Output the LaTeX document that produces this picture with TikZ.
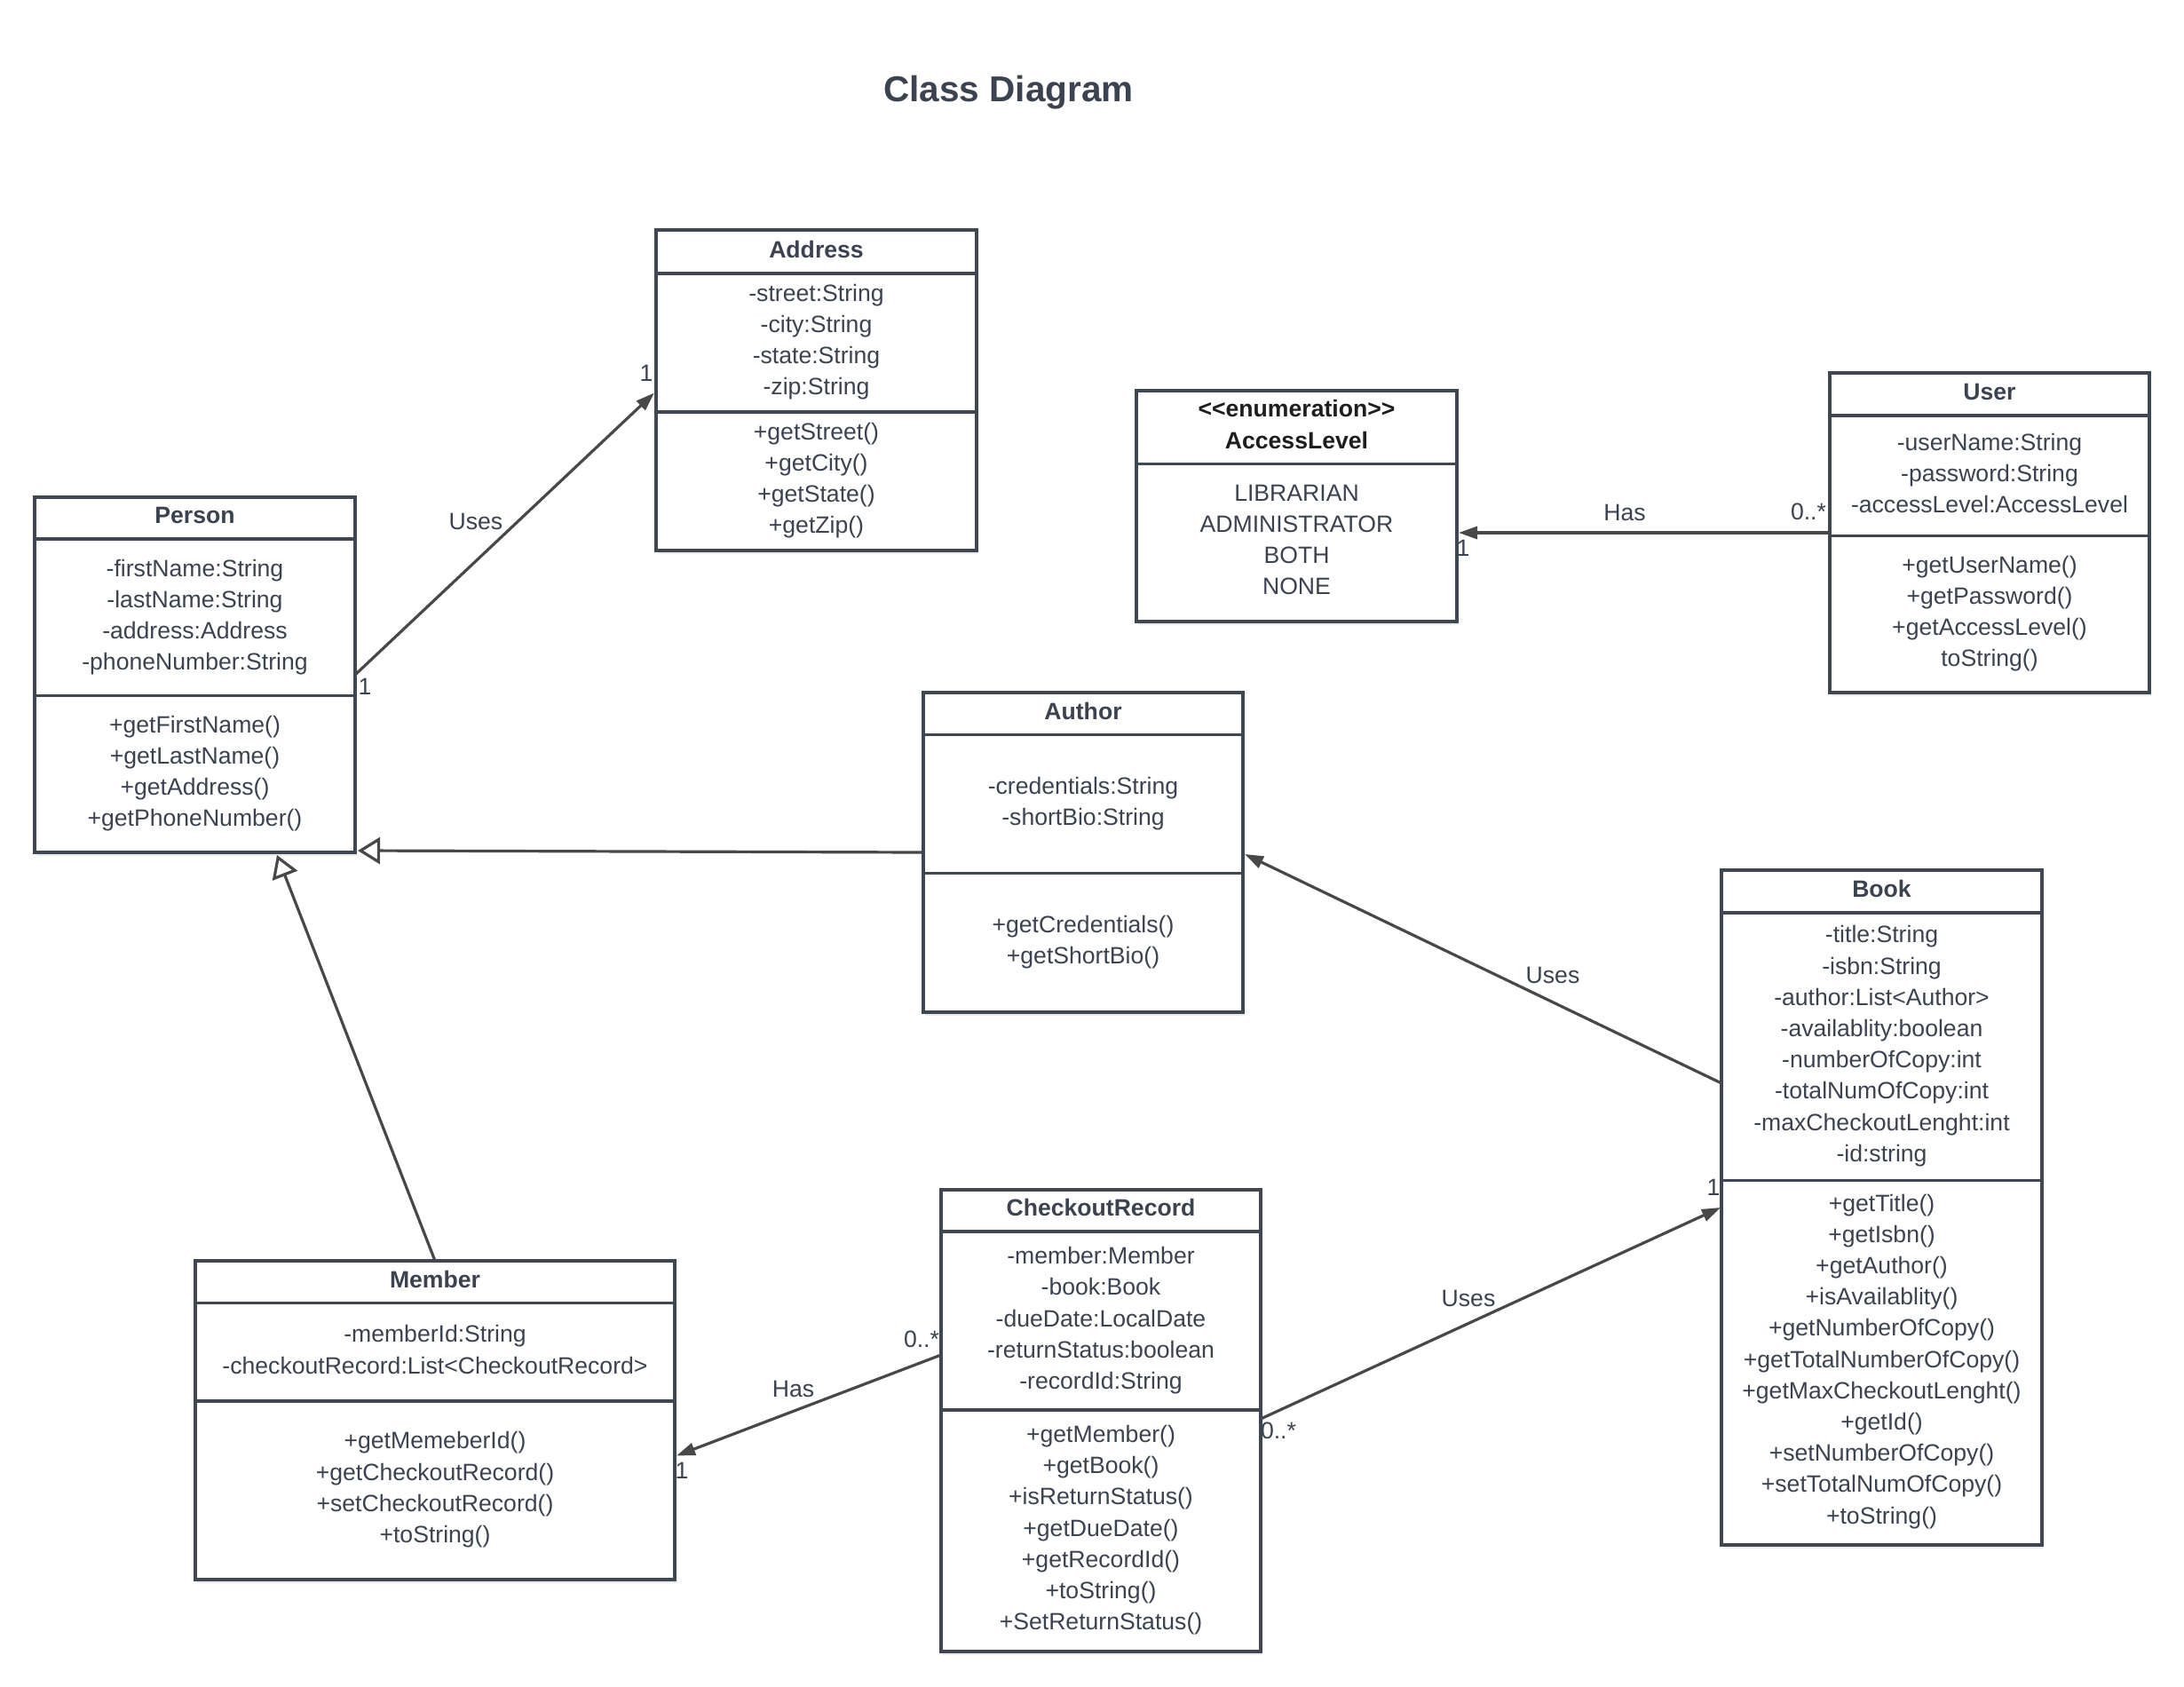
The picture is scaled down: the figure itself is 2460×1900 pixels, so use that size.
\documentclass[tikz,border=0pt]{standalone}
\usepackage{fontspec}
\setmainfont{Liberation Sans}
\usetikzlibrary{arrows.meta,shadows}
\definecolor{boxc}{HTML}{3F4752}
\definecolor{txtc}{HTML}{3B4350}
\definecolor{linec}{HTML}{484848}
\definecolor{hdrk}{HTML}{1E1E1E}
\newcommand{\Lx}[1]{\strut#1}
\begin{document}
\begin{tikzpicture}[x=1pt,y=-1pt,
  umlbox/.style={draw=boxc, line width=3.2pt, fill=white, inner sep=0pt, outer sep=0pt, anchor=north west,
    drop shadow={shadow xshift=2pt, shadow yshift=-4pt, opacity=0.08, fill=black}},
  divline/.style={draw=boxc, line width=3.2pt},
  txt/.style={text=txtc, font=\fontsize{26.6}{35.2}\selectfont, align=center, inner sep=0pt},
  hdr/.style={txt, font=\bfseries\fontsize{26.6}{35.2}\selectfont},
  conn/.style={draw=linec, line width=3.2pt},
  fillarrow/.style={-{Triangle[length=21pt,width=14pt]}},
  genarrow/.style={-{Triangle[open,length=25pt,width=30pt]}},
  lbl/.style={text=txtc, font=\fontsize{26.6}{32}\selectfont, inner sep=0pt}
]
\fill[white] (0,0) rectangle (2460,1900);
\useasboundingbox (0,0) rectangle (2460,1900);

% title
\node[text=txtc, font=\bfseries\fontsize{40.5}{48}\selectfont, anchor=base, inner sep=0pt] (title) at (1136,115) {Class Diagram};

% ---------- boxes ----------
\node[umlbox, minimum width=361pt, minimum height=361pt] (address) at (739,259) {};
\node[umlbox, minimum width=361pt, minimum height=400pt] (person) at (39,560) {};
\node[umlbox, minimum width=361pt, minimum height=260pt] (access) at (1280,440) {};
\node[umlbox, minimum width=360pt, minimum height=360pt] (user) at (2061,420) {};
\node[umlbox, minimum width=360pt, minimum height=360pt] (author) at (1040,780) {};
\node[umlbox, minimum width=361pt, minimum height=760pt] (book) at (1939,980) {};
\node[umlbox, minimum width=360pt, minimum height=520pt] (cr) at (1060,1340) {};
\node[umlbox, minimum width=540pt, minimum height=359pt] (member) at (220,1420) {};

% ---------- dividers ----------
\foreach \b/\d in {address/49, address/205, person/47, person/223.6, access/82.5,
  user/48, user/183.5, author/47.5, author/203.5, book/48, book/349.5,
  cr/47, cr/248, member/47.5, member/158}{
  \draw[divline] ([yshift=-\d pt]\b.north west) -- ([yshift=-\d pt]\b.north east);
}

% ---------- texts ----------
\node[hdr] (address-h) at (919.5,281) {Address};
\node[txt] (address-a) at (919.5,385) {\Lx{-street:String}\\\Lx{-city:String}\\\Lx{-state:String}\\\Lx{-zip:String}};
\node[txt] (address-m) at (919.5,541) {\Lx{+getStreet()}\\\Lx{+getCity()}\\\Lx{+getState()}\\\Lx{+getZip()}};

\node[hdr] (person-h) at (219.5,580.7) {Person};
\node[txt] (person-a) at (219.5,695) {\Lx{-firstName:String}\\\Lx{-lastName:String}\\\Lx{-address:Address}\\\Lx{-phoneNumber:String}};
\node[txt] (person-m) at (219.5,871) {\Lx{+getFirstName()}\\\Lx{+getLastName()}\\\Lx{+getAddress()}\\\Lx{+getPhoneNumber()}};

\node[hdr, text=hdrk] (access-h) at (1460.5,480.5) {\Lx{<\kern0pt<enumeration>\kern0pt>}\\\Lx{AccessLevel}};
\node[txt] (access-a) at (1460.5,610) {\Lx{LIBRARIAN}\\\Lx{ADMINISTRATOR}\\\Lx{BOTH}\\\Lx{NONE}};

\node[hdr] (user-h) at (2241,441.5) {User};
\node[txt] (user-a) at (2241,535.3) {\Lx{-userName:String}\\\Lx{-password:String}\\\Lx{-accessLevel:AccessLevel}};
\node[txt] (user-m) at (2241,691) {\Lx{+getUserName()}\\\Lx{+getPassword()}\\\Lx{+getAccessLevel()}\\\Lx{toString()}};

\node[hdr] (author-h) at (1220,800.7) {Author};
\node[txt] (author-a) at (1220,905.3) {\Lx{-credentials:String}\\\Lx{-shortBio:String}};
\node[txt] (author-m) at (1220,1061) {\Lx{+getCredentials()}\\\Lx{+getShortBio()}};

\node[hdr] (book-h) at (2119.5,1001) {Book};
\node[txt] (book-a) at (2119.5,1178) {\Lx{-title:String}\\\Lx{-isbn:String}\\\Lx{-author:List<Author>}\\\Lx{-availablity:boolean}\\\Lx{-numberOfCopy:int}\\\Lx{-totalNumOfCopy:int}\\\Lx{-maxCheckoutLenght:int}\\\Lx{-id:string}};
\node[txt] (book-m) at (2119.5,1533) {\Lx{+getTitle()}\\\Lx{+getIsbn()}\\\Lx{+getAuthor()}\\\Lx{+isAvailablity()}\\\Lx{+getNumberOfCopy()}\\\Lx{+getTotalNumberOfCopy()}\\\Lx{+getMaxCheckoutLenght()}\\\Lx{+getId()}\\\Lx{+setNumberOfCopy()}\\\Lx{+setTotalNumOfCopy()}\\\Lx{+toString()}};

\node[hdr] (cr-h) at (1240,1360) {CheckoutRecord};
\node[txt] (cr-a) at (1240,1487) {\Lx{-member:Member}\\\Lx{-book:Book}\\\Lx{-dueDate:LocalDate}\\\Lx{-returnStatus:boolean}\\\Lx{-recordId:String}};
\node[txt] (cr-m) at (1240,1723) {\Lx{+getMember()}\\\Lx{+getBook()}\\\Lx{+isReturnStatus()}\\\Lx{+getDueDate()}\\\Lx{+getRecordId()}\\\Lx{+toString()}\\\Lx{+SetReturnStatus()}};

\node[hdr] (member-h) at (490,1441) {Member};
\node[txt] (member-a) at (490,1522.5) {\Lx{-memberId:String}\\\Lx{-checkoutRecord:List<CheckoutRecord>}};
\node[txt] (member-m) at (490,1677.6) {\Lx{+getMemeberId()}\\\Lx{+getCheckoutRecord()}\\\Lx{+setCheckoutRecord()}\\\Lx{+toString()}};

% ---------- connectors ----------
\draw[conn, fillarrow] (person.east) -- ([xshift=-2pt,yshift=-3pt]address.west);
\draw[conn, fillarrow] (user.west) -- ([xshift=2pt,yshift=-30pt]access.east);
\draw[conn, genarrow] (author.west) -- ([xshift=3pt,yshift=2pt]person.south east);
\draw[conn, genarrow] (member.north) -- ([xshift=92.5pt,yshift=-3pt]person.south);
\draw[conn, fillarrow] ([yshift=140pt]book.west) -- ([xshift=2pt,yshift=-2pt]author.east);
\draw[conn, fillarrow] ([yshift=2pt]cr.east) -- ([xshift=-1pt]book.west);
\draw[conn, fillarrow] ([yshift=74pt]cr.west) -- ([xshift=2pt,yshift=-40pt]member.east);

% ---------- connector labels ----------
\node[lbl] (l1) at (536,587) {Uses};
\node[lbl] (l1a) at (411,773) {1};
\node[lbl] (l1b) at (728,420) {1};
\node[lbl] (l2) at (1830,577) {Has};
\node[lbl] (l2a) at (2037,576) {0..*};
\node[lbl] (l2b) at (1648,617) {1};
\node[lbl] (l5) at (1749,1098) {Uses};
\node[lbl] (l6) at (1654,1462) {Uses};
\node[lbl] (l6a) at (1440,1611) {0..*};
\node[lbl] (l6b) at (1930,1337.5) {1};
\node[lbl] (l7) at (893.5,1564) {Has};
\node[lbl] (l7a) at (1038,1508) {0..*};
\node[lbl] (l7b) at (768,1656) {1};
\end{tikzpicture}
\end{document}
